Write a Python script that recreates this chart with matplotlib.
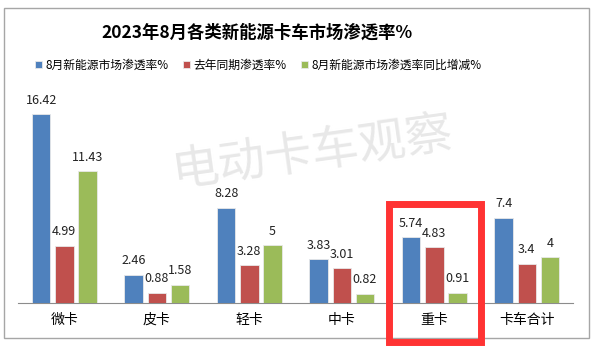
import matplotlib
matplotlib.use("Agg")
import matplotlib.pyplot as plt
from matplotlib.patches import Rectangle
import numpy as np

plt.rcParams['font.family'] = ['Noto Sans CJK SC', 'DejaVu Sans']

categories = ['微卡', '皮卡', '轻卡', '中卡', '重卡', '卡车合计']
series_names = ['8月新能源市场渗透率%', '去年同期渗透率%', '8月新能源市场渗透率同比增减%']
aug_rate = [16.42, 2.46, 8.28, 3.83, 5.74, 7.4]
last_year = [4.99, 0.88, 3.28, 3.01, 4.83, 3.4]
yoy_change = [11.43, 1.58, 5, 0.82, 0.91, 4]
colors = ['#4F81BD', '#C0504D', '#9BBB59']

fig = plt.figure(figsize=(6, 3.51), dpi=100)
# outer chart border
fig.patches.append(Rectangle((4/600, 13/351), 585/600, 330/351, transform=fig.transFigure,
                             fill=False, edgecolor='#A6A6A6', linewidth=1.0))

ax = fig.add_axes([18/600, 48/351, 555/600, 0.59])
x = np.arange(len(categories))
w = 0.2
step = 0.25
for i, (vals, c) in enumerate(zip([aug_rate, last_year, yoy_change], colors)):
    pos = x + (i - 1) * step
    bars = ax.bar(pos, vals, width=w, color=c, edgecolor='#E8E8E8', linewidth=0.6,
                  label=series_names[i], zorder=3)
    for b, v in zip(bars, vals):
        ax.annotate(f'{v:g}', (b.get_x() + b.get_width() / 2, b.get_height()),
                    xytext=(0, 10), textcoords='offset points', ha='center', va='center',
                    fontsize=9, color='#222222', zorder=4)

ax.set_xlim(-0.5, len(categories) - 0.5)
ax.set_ylim(0, 18)
ax.set_yticks([])
ax.set_xticks(x)
ax.set_xticklabels(categories, fontsize=10)
ax.tick_params(axis='x', length=0, pad=7)
for s in ['left', 'right', 'top']:
    ax.spines[s].set_visible(False)
ax.spines['bottom'].set_color('#8C8C8C')
ax.patch.set_alpha(0)

fig.suptitle('2023年8月各类新能源卡车市场渗透率%', x=257/600, y=1 - 33/351, va='center',
             fontsize=12.5, fontweight='bold')

leg = fig.legend(loc='center', bbox_to_anchor=(258/600, 1 - 65/351), ncol=3, frameon=False,
                 fontsize=8.5, handlelength=0.6, handleheight=0.6, handletextpad=0.3,
                 columnspacing=1.2)

# watermark
fig.text(312/600, 1 - 153/351, '电动卡车观察', fontsize=34, color='#E8E8E8',
         rotation=8, ha='center', va='center', zorder=0)

# red highlight box around 重卡
fig.patches.append(Rectangle((389/600, 1 - 342/351), 92/600, 138/351, transform=fig.transFigure,
                             fill=False, edgecolor='#FF3333', linewidth=5))

fig.savefig('out.png', dpi=100)
